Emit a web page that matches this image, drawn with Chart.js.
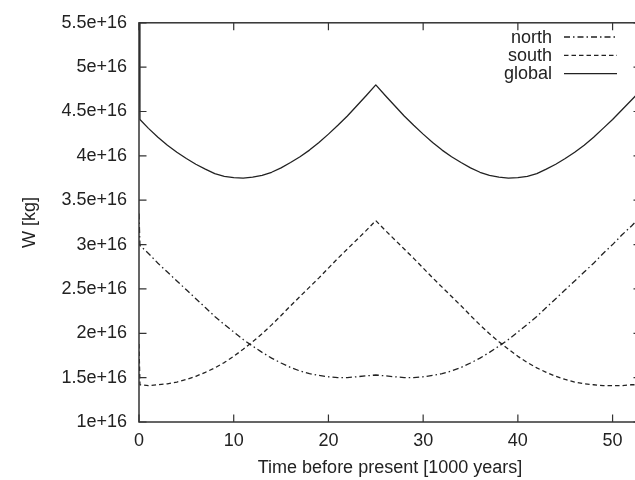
<!DOCTYPE html>
<html><head><meta charset="utf-8">
<script src="https://cdn.jsdelivr.net/npm/chart.js@4/dist/chart.umd.min.js"></script>
<style>
html,body{margin:0;padding:0;background:#fff;overflow:hidden;width:635px;height:480px}
#wrap{width:635px;height:480px;overflow:hidden;position:relative}
canvas{display:block}
</style></head><body>
<div id="wrap"><canvas id="c" width="642" height="480"></canvas></div>
<script>
// Time before present [1000 years]
const years = [0, 0.1, 1, 2, 3, 4, 5, 6, 7, 8, 9, 10, 11, 12, 13, 14, 15, 16, 17, 18, 19, 20,
  21, 22, 23, 24, 25, 26, 27, 28, 29, 30, 31, 32, 33, 34, 35, 36, 37, 38, 39, 40,
  41, 42, 43, 44, 45, 46, 47, 48, 49, 50, 51, 52, 53];
// W in units of 1e16 kg
const north = [3.35, 2.99, 2.90, 2.79, 2.69, 2.59, 2.49, 2.39, 2.29, 2.19, 2.10, 2.015, 1.93, 1.855, 1.785, 1.72, 1.665, 1.615, 1.575, 1.545, 1.525, 1.51,
  1.50, 1.50, 1.51, 1.52, 1.53, 1.52, 1.51, 1.50, 1.50, 1.51, 1.525, 1.545, 1.575, 1.615, 1.665, 1.72, 1.785, 1.855, 1.93, 2.015,
  2.10, 2.19, 2.29, 2.39, 2.49, 2.59, 2.69, 2.79, 2.90, 3.00, 3.11, 3.21, 3.32];
const south = [1.88, 1.42, 1.41, 1.42, 1.43, 1.45, 1.48, 1.515, 1.56, 1.61, 1.67, 1.74, 1.82, 1.905, 1.995, 2.095, 2.20, 2.31, 2.415, 2.52, 2.625, 2.735,
  2.845, 2.95, 3.055, 3.16, 3.27, 3.16, 3.055, 2.95, 2.845, 2.735, 2.625, 2.52, 2.415, 2.31, 2.20, 2.095, 1.995, 1.905, 1.82, 1.74,
  1.67, 1.61, 1.56, 1.515, 1.48, 1.45, 1.43, 1.42, 1.41, 1.41, 1.41, 1.42, 1.42];
const globalW = [5.6, 4.41, 4.31, 4.21, 4.12, 4.04, 3.97, 3.905, 3.85, 3.80, 3.77, 3.755, 3.75, 3.76, 3.78, 3.815, 3.865, 3.925, 3.99, 4.065, 4.15, 4.245,
  4.345, 4.45, 4.565, 4.68, 4.80, 4.68, 4.565, 4.45, 4.345, 4.245, 4.15, 4.065, 3.99, 3.925, 3.865, 3.815, 3.78, 3.76, 3.75, 3.755,
  3.77, 3.80, 3.85, 3.905, 3.97, 4.04, 4.12, 4.21, 4.31, 4.41, 4.52, 4.63, 4.74];
const seriesNames = ['north', 'south', 'global'];
const xTickValues = [0, 10, 20, 30, 40, 50];
const xTickLabels = ['0', '10', '20', '30', '40', '50'];
const yTickValues = [1, 1.5, 2, 2.5, 3, 3.5, 4, 4.5, 5, 5.5];
const yTickLabels = ['1e+16', '1.5e+16', '2e+16', '2.5e+16', '3e+16', '3.5e+16', '4e+16', '4.5e+16', '5e+16', '5.5e+16'];
const xTitle = 'Time before present [1000 years]';
const yTitle = 'W [kg]';

const FONT = '"Liberation Sans", Arial, Helvetica, sans-serif';
const INK = '#222';
Chart.defaults.font.family = FONT;
Chart.defaults.font.size = 18;
Chart.defaults.color = INK;

const toPts = arr => arr.map((v, i) => ({x: years[i], y: v}));

const framePlugin = {
  id: 'frame',
  afterDatasetsDraw(chart) {
    const {ctx, chartArea: a, scales: {x, y}} = chart;
    ctx.save();
    ctx.strokeStyle = '#333';
    ctx.lineWidth = 1.5;
    ctx.strokeRect(a.left, a.top, a.right - a.left, a.bottom - a.top);
    ctx.lineWidth = 1.2;
    const L = 7.5;
    ctx.beginPath();
    x.ticks.forEach(t => {
      const p = x.getPixelForValue(t.value);
      ctx.moveTo(p, a.bottom); ctx.lineTo(p, a.bottom - L);
      ctx.moveTo(p, a.top); ctx.lineTo(p, a.top + L);
    });
    y.ticks.forEach(t => {
      const p = y.getPixelForValue(t.value);
      ctx.moveTo(a.left, p); ctx.lineTo(a.left + L, p);
      ctx.moveTo(a.right, p); ctx.lineTo(a.right - L, p);
    });
    ctx.stroke();
    // key (legend) in gnuplot style: text right-aligned, sample line at right
    ctx.font = '18px ' + FONT;
    ctx.textAlign = 'right';
    ctx.textBaseline = 'alphabetic';
    chart.data.datasets.forEach((ds, i) => {
      const yl = 37 + i * 18.3;
      ctx.fillStyle = INK;
      ctx.fillText(ds.label, 552, yl + 5.6);
      ctx.strokeStyle = ds.borderColor;
      ctx.lineWidth = ds.borderWidth;
      ctx.setLineDash(ds.borderDash || []);
      ctx.beginPath();
      ctx.moveTo(564, yl); ctx.lineTo(617, yl);
      ctx.stroke();
    });
    ctx.restore();
  }
};

new Chart(document.getElementById('c'), {
  type: 'line',
  data: {
    datasets: [
      {label: seriesNames[0], data: toPts(north), borderColor: '#222', borderWidth: 1.3, borderDash: [6, 3, 1.5, 3]},
      {label: seriesNames[1], data: toPts(south), borderColor: '#222', borderWidth: 1.3, borderDash: [4.5, 3]},
      {label: seriesNames[2], data: toPts(globalW), borderColor: '#222', borderWidth: 1.3, borderDash: []}
    ]
  },
  options: {
    responsive: false,
    animation: false,
    devicePixelRatio: 1,
    layout: {padding: {top: 19, right: 1, left: 0, bottom: 0}},
    elements: {point: {radius: 0}, line: {tension: 0, fill: false, borderJoinStyle: 'round'}},
    plugins: {legend: {display: false}, tooltip: {enabled: false}},
    scales: {
      x: {
        type: 'linear', min: 0, max: 53,
        afterBuildTicks: s => { s.ticks = xTickValues.map(v => ({value: v})); },
        afterFit: s => { s.height = 58; },
        grid: {display: false, drawTicks: false},
        border: {display: false},
        ticks: {padding: 8, maxRotation: 0, callback: v => xTickLabels[xTickValues.indexOf(v)]},
        title: {display: true, text: xTitle, padding: {top: 0, bottom: 1}}
      },
      y: {
        type: 'linear', min: 1, max: 5.5,
        afterBuildTicks: s => { s.ticks = yTickValues.map(v => ({value: v})); },
        afterFit: s => { s.width = 139; },
        grid: {display: false, drawTicks: false},
        border: {display: false},
        ticks: {padding: 12, callback: v => yTickLabels[yTickValues.indexOf(v)]},
        title: {display: true, text: yTitle, padding: {top: 19, bottom: 0}}
      }
    }
  },
  plugins: [framePlugin]
});
</script>
</body></html>
